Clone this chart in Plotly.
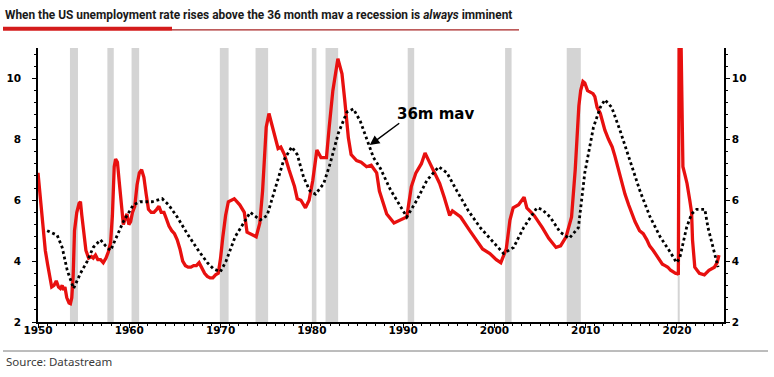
import plotly.graph_objects as go

# ---------------- data ----------------
unemp_year = [
    1950.0, 1950.25, 1950.45, 1950.6, 1950.8, 1951.05, 1951.3, 1951.5, 1951.75, 1952.0,
    1952.25, 1952.45, 1952.65, 1952.8, 1952.95, 1953.15, 1953.4, 1953.55, 1953.7, 1953.85,
    1954.0, 1954.25, 1954.5, 1954.65, 1954.8, 1955.0, 1955.25, 1955.55, 1955.85, 1956.05,
    1956.3, 1956.55, 1956.85, 1957.15, 1957.45, 1957.7, 1957.95, 1958.15, 1958.35, 1958.5,
    1958.7, 1958.9, 1959.15, 1959.35, 1959.55, 1959.75, 1959.95, 1960.15, 1960.35, 1960.6,
    1960.85, 1961.1, 1961.35, 1961.6, 1961.85, 1962.1, 1962.4, 1962.7, 1963.0, 1963.25,
    1963.5, 1963.8, 1964.05, 1964.35, 1964.65, 1964.95, 1965.25, 1965.55, 1965.85, 1966.15,
    1966.45, 1966.75, 1967.05, 1967.35, 1967.65, 1967.95, 1968.25, 1968.55, 1968.85, 1969.15,
    1969.45, 1969.75, 1970.0, 1970.25, 1970.55, 1970.85, 1971.2, 1971.5, 1972.1, 1972.6,
    1972.9, 1973.5, 1973.9, 1974.3, 1974.6, 1974.85, 1975.0, 1975.3, 1975.7, 1975.9,
    1976.3, 1976.6, 1977.0, 1977.5, 1978.1, 1978.4, 1978.8, 1979.3, 1979.7, 1980.1,
    1980.55, 1981.0, 1981.6, 1981.9, 1982.3, 1982.85, 1983.3, 1983.6, 1984.0, 1984.3,
    1984.9, 1985.4, 1986.0, 1986.5, 1987.1, 1987.4, 1988.2, 1989.0, 1989.8, 1990.4,
    1990.9, 1991.4, 1992.0, 1992.4, 1992.8, 1993.4, 1994.0, 1994.5, 1995.1, 1995.4,
    1996.3, 1997.3, 1998.0, 1998.7, 1999.5, 2000.2, 2000.7, 2001.3, 2001.7, 2002.05,
    2002.65, 2003.25, 2003.55, 2004.35, 2005.25, 2005.95, 2006.75, 2007.25, 2007.85, 2008.45,
    2008.85, 2009.1, 2009.25, 2009.45, 2009.7, 2009.9, 2010.2, 2010.5, 2010.8, 2011.0,
    2011.25, 2011.6, 2012.1, 2012.5, 2012.9, 2013.2, 2013.5, 2013.9, 2014.3, 2014.7,
    2015.0, 2015.4, 2015.9, 2016.3, 2016.7, 2017.0, 2017.4, 2017.9, 2018.4, 2018.7,
    2019.0, 2019.3, 2019.6, 2019.85, 2020.05, 2020.15, 2020.27, 2020.42, 2020.52, 2020.65,
    2020.9, 2021.1, 2021.4, 2021.6, 2021.7, 2021.95, 2022.45, 2023.0, 2023.5, 2024.1,
    2024.4, 2024.6,
]
unemp_rate = [
    6.9, 6.1, 5.4, 4.7, 4.35, 3.9, 3.45, 3.15, 3.2, 3.35,
    3.15, 3.1, 3.2, 3.05, 3.15, 2.8, 2.62, 2.6, 2.8, 3.5,
    5.0, 5.6, 5.9, 5.95, 5.5, 4.9, 4.35, 4.1, 4.15, 4.1,
    4.2, 4.05, 4.05, 3.95, 4.1, 4.3, 4.6, 5.5, 7.1, 7.35,
    7.25, 6.6, 5.8, 5.2, 5.4, 5.55, 5.2, 5.3, 5.6, 5.8,
    6.5, 6.9, 7.0, 6.75, 6.2, 5.7, 5.6, 5.6, 5.7, 5.8,
    5.6, 5.6, 5.4, 5.15, 5.0, 4.9, 4.7, 4.4, 4.0, 3.85,
    3.8, 3.8, 3.85, 3.85, 3.95, 3.75, 3.6, 3.5, 3.45, 3.45,
    3.55, 3.6, 4.1, 4.8, 5.5, 5.95, 6.0, 6.05, 5.85, 5.6,
    4.95, 4.85, 4.8, 5.25, 6.3, 7.6, 8.4, 8.85, 8.4, 8.2,
    7.7, 7.75, 7.5, 7.0, 6.45, 6.05, 6.0, 5.75, 6.0, 6.65,
    7.65, 7.4, 7.4, 8.4, 9.6, 10.65, 10.15, 9.3, 8.05, 7.5,
    7.3, 7.25, 7.1, 7.15, 6.9, 6.3, 5.55, 5.25, 5.35, 5.45,
    6.45, 6.9, 7.2, 7.55, 7.3, 6.9, 6.55, 6.1, 5.5, 5.65,
    5.45, 5.0, 4.7, 4.4, 4.25, 4.05, 3.95, 4.4, 5.35, 5.75,
    5.85, 6.1, 5.75, 5.5, 5.1, 4.75, 4.45, 4.5, 4.8, 5.45,
    7.0, 8.3, 9.1, 9.6, 9.9, 9.85, 9.6, 9.55, 9.5, 9.4,
    9.05, 8.85, 8.3, 8.0, 7.75, 7.45, 7.1, 6.65, 6.2, 5.85,
    5.6, 5.3, 5.0, 4.9, 4.7, 4.5, 4.35, 4.1, 3.9, 3.85,
    3.8, 3.7, 3.65, 3.6, 3.6, 3.55, 14.7, 11.5, 9.0, 7.1,
    6.8, 6.55, 6.0, 5.6, 4.7, 3.8, 3.6, 3.55, 3.7, 3.8,
    3.95, 4.2,
]

mav_year = [
    1951.0, 1952.1, 1952.65, 1953.2, 1953.9, 1954.65, 1955.4, 1956.05, 1956.85, 1957.4,
    1957.95, 1958.7, 1959.35, 1960.45, 1961.2, 1962.5, 1963.6, 1964.3, 1965.25, 1966.35,
    1967.45, 1968.55, 1969.2, 1969.98, 1970.6, 1971.6, 1973.25, 1974.35, 1975.1, 1976.0,
    1976.9, 1977.8, 1978.4, 1979.1, 1979.8, 1980.4, 1981.3, 1982.0, 1982.9, 1983.85,
    1984.55, 1985.3, 1986.0, 1986.75, 1987.5, 1988.6, 1989.7, 1990.4, 1991.5, 1992.6,
    1993.9, 1994.8, 1995.9, 1997.15, 1998.45, 1999.9, 2001.0, 2002.1, 2003.2, 2004.65,
    2005.2, 2006.1, 2007.2, 2008.2, 2009.2, 2009.9, 2010.85, 2011.6, 2012.1, 2012.85,
    2013.75, 2014.85, 2015.95, 2017.05, 2018.15, 2019.25, 2019.95, 2020.3, 2021.05, 2021.6,
    2022.15, 2023.05, 2023.4, 2023.95, 2024.35, 2024.5,
]
mav_rate = [
    5.0, 4.85, 4.45, 3.7, 3.1, 3.6, 4.0, 4.45, 4.7, 4.5,
    4.35, 4.85, 5.3, 5.85, 5.95, 5.95, 6.05, 5.85, 5.45, 4.9,
    4.4, 3.95, 3.75, 3.65, 4.0, 4.8, 5.6, 5.35, 5.5, 6.4,
    7.3, 7.75, 7.5, 6.75, 6.3, 6.2, 6.55, 7.2, 8.2, 8.9,
    9.0, 8.6, 8.05, 7.4, 7.05, 6.35, 5.8, 5.45, 6.0, 6.65,
    7.1, 6.9, 6.3, 5.65, 5.1, 4.6, 4.25, 4.45, 5.1, 5.75,
    5.7, 5.45, 4.95, 4.75, 5.1, 6.9, 8.4, 9.05, 9.3, 9.05,
    8.3, 7.3, 6.3, 5.45, 4.8, 4.3, 3.95, 4.1, 5.1, 5.55,
    5.7, 5.7, 5.1, 4.45, 3.95, 3.8,
]

recession_start = [1953.5, 1957.6, 1960.25, 1969.92, 1973.83, 1980.0, 1981.5, 1990.5, 2001.17, 2007.92, 2020.08]
recession_end = [1954.38, 1958.3, 1961.08, 1970.88, 1975.21, 1980.5, 1982.88, 1991.21, 2001.88, 2009.46, 2020.3]

x_tick_vals = [1950, 1960, 1970, 1980, 1990, 2000, 2010, 2020]
y_tick_vals = [2, 4, 6, 8, 10]

title_text = "When the US unemployment rate rises above the 36 month mav a recession is <i>always</i> imminent"
source_text = "Source: Datastream"
mav_label = "36m mav"

# ---------------- geometry helpers (pixels -> paper) ----------------
W, H = 774, 377
L, R, T, B = 38, 50, 48, 55
PW, PH = W - L - R, H - T - B


def px(xp):
    return (xp - L) / PW


def py(yp):
    return (H - B - yp) / PH


fig = go.Figure()

fig.add_trace(go.Scatter(
    x=unemp_year, y=unemp_rate, mode="lines",
    line=dict(color="#e8100f", width=3.3), hoverinfo="skip", showlegend=False,
))
fig.add_trace(go.Scatter(
    x=mav_year, y=mav_rate, mode="lines",
    line=dict(color="#000000", width=2.8, dash="2.8px,2.8px"), hoverinfo="skip", showlegend=False,
))
fig.add_trace(go.Scatter(x=[None], y=[None], yaxis="y2", showlegend=False, hoverinfo="skip"))

shapes = []
for s, e in zip(recession_start, recession_end):
    shapes.append(dict(type="rect", xref="x", yref="paper", x0=s, x1=e, y0=0, y1=1,
                       fillcolor="#d4d4d4", line=dict(width=0), layer="below"))
# title underline
shapes.append(dict(type="line", xref="paper", yref="paper", x0=px(172), x1=px(519), y0=py(29.8), y1=py(29.8),
                   line=dict(color="#a82424", width=1.3)))
shapes.append(dict(type="line", xref="paper", yref="paper", x0=px(3), x1=px(172), y0=py(28.7), y1=py(28.7),
                   line=dict(color="#d41c1c", width=4)))
# source separator
shapes.append(dict(type="line", xref="paper", yref="paper", x0=px(3), x1=px(768), y0=py(351), y1=py(351),
                   line=dict(color="#7a7a7a", width=1)))

tickfont = dict(family="DejaVu Sans", size=10.5, color="#000000", weight="bold")

fig.update_layout(
    width=W, height=H,
    margin=dict(l=L, r=R, t=T, b=B, pad=0, autoexpand=False),
    paper_bgcolor="white", plot_bgcolor="white",
    shapes=shapes,
    xaxis=dict(
        range=[1950, 2025.15], tickvals=x_tick_vals, ticks="outside", ticklen=4, tickwidth=1,
        tickcolor="black", showline=True, linecolor="black", linewidth=1.5, showgrid=False,
        zeroline=False, tickfont=tickfont, ticklabelstandoff=-6, automargin=False,
        minor=dict(dtick=1, tick0=1950, ticks="outside", ticklen=2.5, tickcolor="black", showgrid=False),
    ),
    yaxis=dict(
        range=[2, 11], tickvals=y_tick_vals, ticks="outside", ticklen=4, tickwidth=1,
        tickcolor="black", showline=True, linecolor="black", linewidth=1.5, showgrid=False,
        zeroline=False, tickfont=tickfont, ticklabelstandoff=9, automargin=False,
        minor=dict(dtick=0.4, tick0=0, ticks="outside", ticklen=2.5, tickcolor="black", showgrid=False),
    ),
    yaxis2=dict(
        range=[2, 11], tickvals=y_tick_vals, ticks="outside", ticklen=4, tickwidth=1,
        tickcolor="black", showline=True, linecolor="black", linewidth=1.5, showgrid=False,
        zeroline=False, tickfont=tickfont, overlaying="y", side="right", automargin=False,
        minor=dict(dtick=0.4, tick0=0, ticks="outside", ticklen=2.5, tickcolor="black", showgrid=False),
    ),
    annotations=[
        dict(text=title_text, xref="paper", yref="paper", x=px(3), y=py(15), xanchor="left",
             yanchor="middle", showarrow=False,
             font=dict(family="Roboto, sans-serif", size=11.9, color="#1a1a1a", weight="bold")),
        dict(text=source_text, xref="paper", yref="paper", x=px(4), y=py(361), xanchor="left",
             yanchor="middle", showarrow=False,
             font=dict(family="Noto Sans, Open Sans, sans-serif", size=11.5, color="#3a3a3a")),
        dict(text=mav_label, x=1993.56, y=8.83, xref="x", yref="y", showarrow=False,
             font=dict(family="DejaVu Sans", size=15, color="black", weight="bold")),
        dict(text="", x=1986.34, y=7.81, xref="x", yref="y", showarrow=True, ax=31, ay=-23,
             arrowhead=2, arrowsize=1.3, arrowwidth=1.5, arrowcolor="black"),
    ],
)

fig.write_html("out.html", config={"displayModeBar": False},
               post_script="document.body.style.margin='0px';")
